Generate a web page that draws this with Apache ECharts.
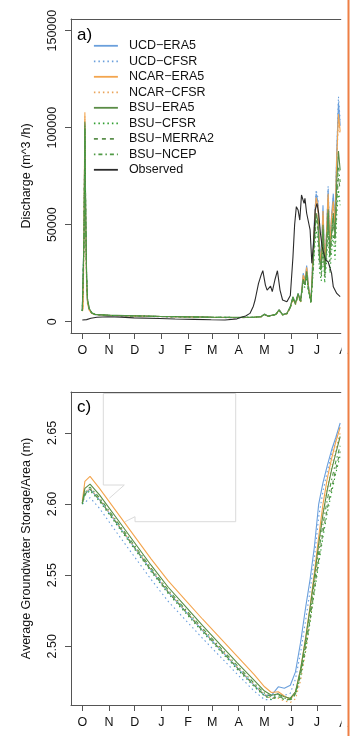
<!DOCTYPE html>
<html>
<head>
<meta charset="utf-8">
<script src="https://cdn.jsdelivr.net/npm/echarts@6/dist/echarts.min.js"></script>
<style>
html, body { margin: 0; padding: 0; background: #fff; }
#chart { width: 350px; height: 736px; }
</style>
</head>
<body>
<div id="chart"></div>
<script>
// day of water year, 0 = 1 October
const monthDays = [0, 31, 61, 92, 123, 151, 182, 212, 243, 273, 304]
const monthLabels = ['O', 'N', 'D', 'J', 'F', 'M', 'A', 'M', 'J', 'J', 'A']
const dischargeTicks = [0, 50000, 100000, 150000]
const storageTicks = [2.5, 2.55, 2.6, 2.65]

const seriesNames = ['UCD\u2212ERA5', 'UCD\u2212CFSR', 'NCAR\u2212ERA5', 'NCAR\u2212CFSR',
  'BSU\u2212ERA5', 'BSU\u2212CFSR', 'BSU\u2212MERRA2', 'BSU\u2212NCEP', 'Observed']

// a) discharge (m^3/h)
const dayA = [0, 1, 2, 3, 4, 5, 6, 8, 11, 15, 30, 60, 90, 120, 150, 180, 200, 208, 212, 216, 220, 225, 229, 233,
  238, 242, 245, 248, 251, 254, 257, 259, 261, 263, 266, 268, 270, 272, 274, 276, 278, 280, 282, 284,
  286, 288, 290, 292, 294, 296, 298, 300]
const ucdEra5A = [5500, 6500, 45000, 102000, 52000, 22000, 11000, 6500, 4400, 3700, 3300, 3000, 2700, 2500, 2300, 2200,
  2300, 2600, 4000, 2800, 3200, 3900, 6200, 3600, 4300, 7800, 12500, 9500, 14500, 10500, 25000, 21500, 29000, 19000,
  10500, 32000, 52000, 66000, 62000, 40000, 33000, 60000, 29000, 45000, 68000, 40000, 55000, 66000, 52000, 88000, 113000, 101000]
const ucdCfsrA = [5500, 6200, 42000, 100000, 50000, 21000, 10500, 6200, 4300, 3600, 3200, 2900, 2600, 2400, 2200, 2100,
  2200, 2500, 3800, 2700, 3100, 3700, 5800, 3500, 4100, 7200, 12000, 9000, 13500, 10000, 23000, 20000, 27500, 18000,
  10000, 30000, 50000, 68000, 64000, 38000, 31000, 57000, 27000, 43000, 70000, 38000, 52000, 64000, 50000, 86000, 116000, 104000]
const ncarEra5A = [5500, 6800, 50000, 108000, 48000, 19000, 9500, 6000, 4300, 3700, 3300, 3000, 2700, 2500, 2300, 2200,
  2300, 2600, 3900, 2800, 3200, 3800, 6000, 3600, 4200, 7500, 12000, 9200, 14000, 10200, 24000, 21000, 28000, 18500,
  10200, 30000, 50000, 64000, 60000, 38000, 30000, 57000, 28000, 44000, 66000, 39000, 54000, 62000, 50000, 84000, 107000, 98000]
const ncarCfsrA = [5500, 6600, 48000, 106000, 47000, 18500, 9300, 5900, 4200, 3600, 3200, 2900, 2600, 2400, 2200, 2100,
  2200, 2500, 3700, 2700, 3100, 3600, 5700, 3400, 4000, 7000, 11500, 8800, 13500, 9800, 23000, 20000, 27000, 17500,
  9800, 29000, 48000, 62000, 58000, 36000, 29000, 55000, 27000, 42000, 64000, 37000, 52000, 60000, 48000, 82000, 104000, 96000]
const bsuEra5A = [5500, 6400, 44000, 103000, 55000, 25000, 12000, 7000, 4600, 3800, 3400, 3100, 2800, 2600, 2400, 2300,
  2400, 2700, 3900, 2900, 3300, 3800, 6200, 3700, 4300, 7700, 12900, 9500, 14600, 10800, 22000, 19000, 26000, 17000,
  10300, 26000, 44000, 56000, 52000, 34000, 27000, 50000, 25000, 38000, 58000, 35000, 46000, 56000, 44000, 72000, 88000, 78000]
const bsuCfsrA = [5500, 6100, 40000, 98000, 53000, 24000, 11500, 6800, 4500, 3700, 3300, 3000, 2700, 2500, 2300, 2200,
  2300, 2600, 3700, 2800, 3200, 3600, 5800, 3500, 4100, 7200, 12000, 9000, 13500, 10000, 20000, 17500, 24000, 15500,
  9500, 22000, 36000, 47000, 42000, 26000, 21000, 40000, 20000, 30000, 48000, 25000, 36000, 45000, 32000, 55000, 68000, 60000]
const bsuMerra2A = [5500, 6200, 42000, 100000, 54000, 24500, 11800, 6900, 4500, 3700, 3300, 3000, 2700, 2500, 2300, 2200,
  2300, 2600, 3800, 2800, 3200, 3700, 6000, 3600, 4200, 7400, 12500, 9200, 14000, 10400, 21000, 18500, 25000, 16500,
  10000, 24000, 40000, 52000, 48000, 30000, 24000, 46000, 23000, 35000, 54000, 31000, 42000, 52000, 40000, 62000, 74000, 68000]
const bsuNcepA = [5500, 6300, 43000, 101000, 54000, 24000, 11500, 6800, 4500, 3700, 3300, 3000, 2700, 2500, 2300, 2200,
  2300, 2600, 3800, 2800, 3200, 3700, 6000, 3600, 4200, 7500, 12700, 9300, 14300, 10600, 21500, 19000, 25500, 17000,
  10200, 25000, 42000, 54000, 50000, 32000, 25000, 48000, 24000, 36000, 56000, 33000, 44000, 54000, 42000, 66000, 80000, 72000]

const dayObs = [0, 5, 10, 17, 30, 45, 60, 90, 108, 130, 150, 166, 180, 185, 190, 195, 199, 201, 205, 208,
  210, 213, 215, 219, 221, 224, 227, 230, 233, 238, 242, 245, 247, 249, 251, 253, 255, 258, 259, 261,
  263, 265, 267, 269, 271, 273, 275, 277, 279, 283, 286, 290, 292, 296, 300]
const observedA = [900, 1100, 1800, 2300, 2600, 2400, 2000, 1700, 1400, 1200, 1000, 900, 1500, 2300, 3000, 4300, 8000, 11200, 19800, 24000,
  26300, 18900, 16300, 18400, 15500, 21500, 26300, 16300, 11200, 10300, 13500, 33000, 50000, 59300, 57600, 52400, 65300, 61000, 63600, 55900,
  56700, 47300, 30100, 40400, 57600, 61000, 55900, 45600, 38700, 31800, 30900, 24900, 18000, 14600, 12900]

// c) average groundwater storage / area (m)
const dayC = [0, 3, 9, 20, 40, 60, 80, 100, 120, 140, 160, 180, 200, 212, 220, 228, 235, 242, 248, 254,
  260, 265, 270, 275, 280, 285, 290, 295, 300]
const ucdEra5C = [2.601, 2.607, 2.6105, 2.603, 2.5865, 2.570, 2.5535, 2.538, 2.5245, 2.511, 2.498, 2.485, 2.4725, 2.4655,
  2.4655, 2.4715, 2.4705, 2.4726, 2.482, 2.503, 2.528, 2.547, 2.570, 2.600, 2.615, 2.627, 2.638, 2.647, 2.657]
const ucdCfsrC = [2.600, 2.601, 2.6045, 2.597, 2.580, 2.5635, 2.547, 2.5315, 2.5185, 2.5055, 2.493, 2.4805, 2.4685, 2.4625,
  2.4625, 2.467, 2.4655, 2.467, 2.477, 2.496, 2.519, 2.539, 2.562, 2.591, 2.609, 2.623, 2.635, 2.645, 2.655]
const ncarEra5C = [2.602, 2.616, 2.6195, 2.611, 2.5945, 2.578, 2.5615, 2.546, 2.5325, 2.519, 2.506, 2.493, 2.480, 2.4715,
  2.4675, 2.468, 2.465, 2.4625, 2.468, 2.484, 2.507, 2.528, 2.552, 2.577, 2.600, 2.618, 2.632, 2.644, 2.654]
const ncarCfsrC = [2.601, 2.608, 2.611, 2.6035, 2.587, 2.5705, 2.554, 2.5385, 2.525, 2.5115, 2.4985, 2.4855, 2.473, 2.466,
  2.4635, 2.4635, 2.4615, 2.4605, 2.463, 2.476, 2.497, 2.518, 2.543, 2.569, 2.593, 2.611, 2.626, 2.639, 2.650]
const bsuEra5C = [2.6005, 2.611, 2.614, 2.6065, 2.590, 2.5735, 2.557, 2.5415, 2.528, 2.5145, 2.5015, 2.4885, 2.476, 2.4685,
  2.4655, 2.4665, 2.4645, 2.4635, 2.468, 2.484, 2.506, 2.527, 2.549, 2.572, 2.593, 2.610, 2.624, 2.636, 2.6475]
const bsuCfsrC = [2.600, 2.606, 2.6095, 2.602, 2.5855, 2.569, 2.5525, 2.537, 2.5235, 2.510, 2.497, 2.484, 2.4715, 2.465,
  2.4625, 2.4645, 2.4625, 2.462, 2.466, 2.479, 2.498, 2.517, 2.538, 2.558, 2.577, 2.594, 2.608, 2.622, 2.634]
const bsuMerra2C = [2.6005, 2.607, 2.6105, 2.603, 2.5865, 2.570, 2.5535, 2.538, 2.5245, 2.511, 2.498, 2.485, 2.4725, 2.4655,
  2.463, 2.465, 2.463, 2.4625, 2.4665, 2.480, 2.500, 2.519, 2.540, 2.561, 2.580, 2.597, 2.611, 2.625, 2.637]
const bsuNcepC = [2.601, 2.608, 2.612, 2.6045, 2.588, 2.5715, 2.555, 2.5395, 2.526, 2.5125, 2.4995, 2.4865, 2.474, 2.467,
  2.4645, 2.466, 2.4635, 2.463, 2.467, 2.482, 2.503, 2.523, 2.545, 2.566, 2.586, 2.603, 2.617, 2.630, 2.641]

const seriesA = [ucdEra5A, ucdCfsrA, ncarEra5A, ncarCfsrA, bsuEra5A, bsuCfsrA, bsuMerra2A, bsuNcepA]
const seriesC = [ucdEra5C, ucdCfsrC, ncarEra5C, ncarCfsrC, bsuEra5C, bsuCfsrC, bsuMerra2C, bsuNcepC]

const lineStyles = [
  { color: '#6a9fdc', type: 'solid' },
  { color: '#6a9fdc', type: [1.5, 3] },
  { color: '#f3a54e', type: 'solid' },
  { color: '#eaa358', type: [1.5, 3] },
  { color: '#5a8c46', type: 'solid' },
  { color: '#2f9e2f', type: [1.5, 3] },
  { color: '#5b8f4c', type: [4, 4] },
  { color: '#4f9a45', type: [1.5, 3, 4, 3] },
  { color: '#2b2b2b', type: 'solid' }
]

const FONT = 'Liberation Sans, Arial, Helvetica, sans-serif'
const axisColor = '#555'
const textColor = '#111'
const xMin = -13.14
const xMax = 300.95

const chart = echarts.init(document.getElementById('chart'), null, { renderer: 'canvas' })

const bottomX = (grid) => ({
  gridIndex: grid, type: 'value', min: xMin, max: xMax,
  axisLine: { show: true, onZero: false, lineStyle: { color: axisColor, width: 1 } },
  axisTick: { show: true, customValues: monthDays, length: 6, lineStyle: { color: axisColor } },
  axisLabel: {
    customValues: monthDays, margin: 11, fontSize: 12.5, fontFamily: FONT, color: textColor,
    formatter: v => monthLabels[monthDays.indexOf(v)]
  },
  splitLine: { show: false }
})
const topX = (grid) => ({
  gridIndex: grid, type: 'value', position: 'top', min: xMin, max: xMax,
  axisLine: { show: true, onZero: false, lineStyle: { color: axisColor, width: 1 } },
  axisTick: { show: false }, axisLabel: { show: false }, splitLine: { show: false }
})
const leftY = (grid, min, max, ticks, name, fmt) => ({
  gridIndex: grid, type: 'value', min: min, max: max,
  name: name, nameLocation: 'middle', nameGap: 38,
  nameTextStyle: { fontSize: 12.5, fontFamily: FONT, color: textColor },
  axisLine: { show: true, onZero: false, lineStyle: { color: axisColor, width: 1 } },
  axisTick: { show: true, customValues: ticks, length: 6, lineStyle: { color: axisColor } },
  axisLabel: { customValues: ticks, rotate: 90, margin: 12, fontSize: 12.5, fontFamily: FONT, color: textColor, formatter: fmt },
  splitLine: { show: false }
})

const series = []
seriesA.forEach((vals, i) => {
  series.push({
    name: seriesNames[i], type: 'line', xAxisIndex: 0, yAxisIndex: 0, symbol: 'none',
    data: dayA.map((d, j) => [d, vals[j]]),
    lineStyle: { width: 1.1, color: lineStyles[i].color, type: lineStyles[i].type },
    itemStyle: { color: lineStyles[i].color }
  })
})
series.push({
  name: seriesNames[8], type: 'line', xAxisIndex: 0, yAxisIndex: 0, symbol: 'none',
  data: dayObs.map((d, j) => [d, observedA[j]]),
  lineStyle: { width: 1.1, color: lineStyles[8].color },
  itemStyle: { color: lineStyles[8].color }
})
seriesC.forEach((vals, i) => {
  series.push({
    name: seriesNames[i] + ' c', type: 'line', xAxisIndex: 2, yAxisIndex: 1, symbol: 'none',
    data: dayC.map((d, j) => [d, vals[j]]),
    lineStyle: { width: 1.1, color: lineStyles[i].color, type: lineStyles[i].type },
    itemStyle: { color: lineStyles[i].color }
  })
})

const option = {
  animation: false,
  backgroundColor: '#fff',
  grid: [
    { left: 71, top: 19, width: 270, height: 314 },
    { left: 71, top: 392, width: 270, height: 313 }
  ],
  xAxis: [bottomX(0), topX(0), bottomX(1), topX(1)],
  yAxis: [
    leftY(0, -5800, 156000, dischargeTicks, 'Discharge (m^3 /h)', v => String(v)),
    leftY(1, 2.4587, 2.6788, storageTicks, 'Average Groundwater Storage/Area (m)', v => v.toFixed(2))
  ],
  legend: {
    data: seriesNames,
    orient: 'vertical', left: 93, top: 39.3, padding: 0,
    itemWidth: 24, itemHeight: 12, itemGap: 2.5,
    itemStyle: { opacity: 0 },
    lineStyle: { width: 1.8 },
    textStyle: { fontSize: 12.5, fontFamily: FONT, color: textColor, padding: [0, 0, 0, 6] }
  },
  graphic: [
    { type: 'text', left: 77, top: 27, style: { text: 'a)', font: '17px ' + FONT, fill: '#000' } },
    { type: 'text', left: 77, top: 399, style: { text: 'c)', font: '17px ' + FONT, fill: '#000' } },
    // leftover callout outline in panel c
    { type: 'polyline', silent: true, z: 1, shape: { points: [[103.3, 485], [103.3, 393.5], [235.7, 393.5], [235.7, 521.7], [135, 521.7], [135, 516.7], [125, 521.7]] },
      style: { stroke: '#dadada', lineWidth: 1, fill: null } },
    { type: 'polyline', silent: true, z: 1, shape: { points: [[103.3, 485], [124.3, 485], [109.3, 498.3]] },
      style: { stroke: '#dadada', lineWidth: 1, fill: null } },
    // month label cut by the image edge
    { type: 'text', x: 343.4, y: 351, style: { text: 'A', font: '12.5px ' + FONT, fill: textColor, align: 'center', verticalAlign: 'middle' } },
    { type: 'text', x: 343.4, y: 723.8, style: { text: 'A', font: '12.5px ' + FONT, fill: textColor, align: 'center', verticalAlign: 'middle' } },
    { type: 'rect', z: 100, shape: { x: 341.5, y: 0, width: 6, height: 736 }, style: { fill: '#fff' } },
    { type: 'rect', z: 101, shape: { x: 347.5, y: 0, width: 2, height: 736 }, style: { fill: '#ee7f45' } }
  ],
  series: series
}

chart.setOption(option)
</script>
</body>
</html>
